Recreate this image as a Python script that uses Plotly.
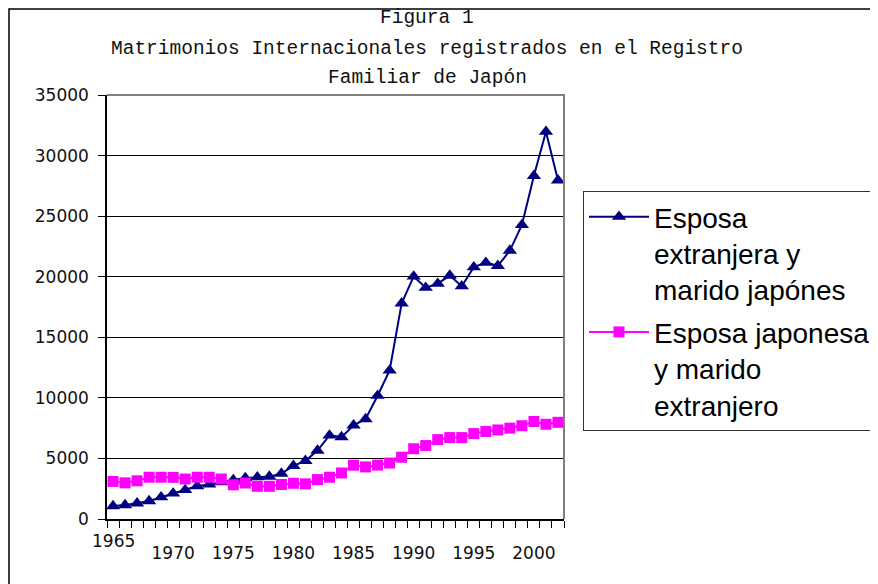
import plotly.graph_objects as go

years = list(range(1965, 2003))
esposa_extranjera = [1067, 1150, 1300, 1480, 1800, 2108, 2400, 2720, 2850, 3050,
                     3222, 3380, 3450, 3500, 3750, 4386, 4800, 5650, 6900, 6760,
                     7738, 8255, 10176, 12267, 17800, 20026, 19096, 19423, 20092, 19216,
                     20787, 21162, 20902, 22159, 24272, 28326, 31972, 27957]
esposa_japonesa = [3100, 2985, 3150, 3450, 3450, 3438, 3300, 3450, 3450, 3300,
                   2823, 2970, 2700, 2700, 2850, 2950, 2900, 3250, 3450, 3800,
                   4443, 4300, 4450, 4620, 5100, 5800, 6063, 6550, 6720, 6720,
                   7050, 7220, 7350, 7500, 7700, 8050, 7820, 7980]
names = ["Esposa<br>extranjera y<br>marido japónes",
         "Esposa japonesa<br>y marido<br>extranjero"]
x_tick_years = [1970, 1975, 1980, 1985, 1990, 1995, 2000]
y_ticks = [0, 5000, 10000, 15000, 20000, 25000, 30000, 35000]
title_lines = ["Figura 1",
               "Matrimonios Internacionales registrados en el Registro",
               "Familiar de Japón"]

fig = go.Figure()
fig.add_trace(go.Scatter(x=years, y=esposa_extranjera, name=names[0], mode="lines+markers",
                         legendgroup="a",
                         line=dict(color="#000080", width=2),
                         marker=dict(symbol="triangle-up", size=12.5, color="#000080")))
fig.add_trace(go.Scatter(x=years, y=esposa_japonesa, name=names[1], mode="lines+markers",
                         legendgroup="b",
                         line=dict(color="#FF00FF", width=2),
                         marker=dict(symbol="square", size=11, color="#FF00FF")))

tick_font = dict(family="DejaVu Sans", size=17, color="#111111")
fig.update_xaxes(range=[years[0] - 0.5, years[-1] + 0.5], showline=True, linecolor="black",
                 linewidth=1.5, showgrid=False, zeroline=False,
                 tickmode="array", tickvals=x_tick_years, ticktext=[str(v) for v in x_tick_years],
                 ticks="", tickfont=tick_font, ticklabelstandoff=18,
                 minor=dict(tickmode="array",
                            tickvals=[years[0] - 0.5 + i for i in range(len(years) + 1)],
                            ticks="outside", ticklen=7, tickcolor="black", tickwidth=1,
                            showgrid=False))
fig.update_yaxes(range=[0, 35000], showline=True, linecolor="black", linewidth=1.5,
                 showgrid=True, gridcolor="black", gridwidth=1, zeroline=False,
                 tickmode="array", tickvals=y_ticks, ticktext=[str(v) for v in y_ticks],
                 ticks="outside", ticklen=7,
                 tickcolor="black", tickfont=tick_font, ticklabelstandoff=6)

annotations = []
for txt, ypx in zip(title_lines, [18, 49, 78]):
    annotations.append(dict(text=txt, xref="paper", yref="paper", x=(427 - 107) / 457,
                            y=(519 - ypx) / 424, xanchor="center", yanchor="middle",
                            showarrow=False,
                            font=dict(family="Liberation Mono", size=19.5, color="#111111")))
annotations.append(dict(text=str(years[0]), xref="x", yref="paper", x=years[0],
                        y=(519 - 541) / 424, xanchor="center", yanchor="middle",
                        showarrow=False, font=tick_font))

shapes = [
    dict(type="path", xref="paper", yref="paper", path="M 0,1 L 1,1 L 1,0",
         line=dict(color="#808080", width=2), layer="above"),
    dict(type="rect", xref="paper", yref="paper", x0=(9 - 107) / 457, x1=(876 - 107) / 457,
         y0=(519 - 600) / 424, y1=(519 - 9) / 424, line=dict(color="black", width=1.5),
         layer="below"),
]

fig.update_layout(
    width=870, height=576,
    margin=dict(l=99, r=314, t=87, b=65, autoexpand=False),
    paper_bgcolor="white", plot_bgcolor="white",
    showlegend=True,
    legend=dict(x=(583 - 107) / 457, y=(519 - 191) / 424, xanchor="left", yanchor="top",
                font=dict(family="Liberation Sans, Arial", size=28, color="black"),
                valign="top", bordercolor="#333333", borderwidth=1, bgcolor="white",
                tracegroupgap=3, itemwidth=60),
    annotations=annotations,
    shapes=shapes,
)
fig.write_html("out.html")
